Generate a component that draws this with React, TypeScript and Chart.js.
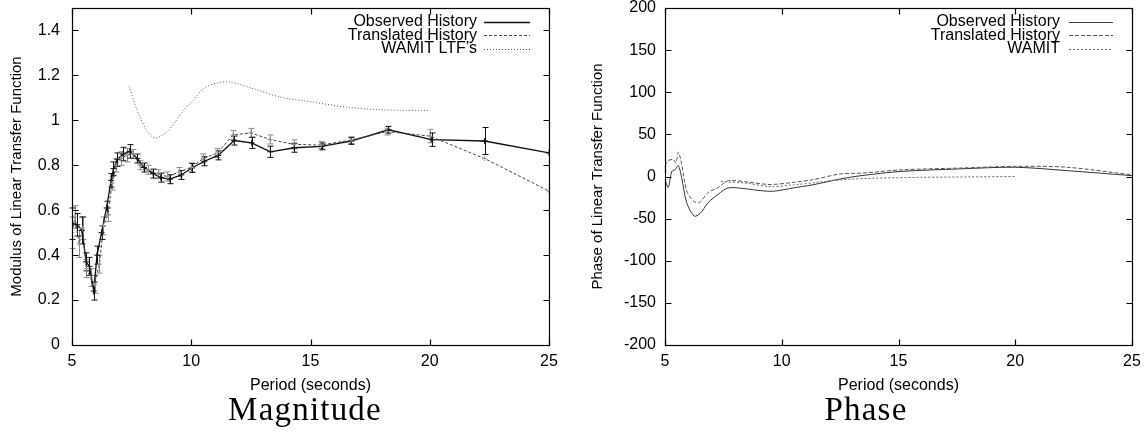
import React, { useEffect, useRef } from 'react';
import { Chart, registerables } from 'chart.js';
Chart.register(...registerables);

const SANS = "'Liberation Sans', Arial, Helvetica, sans-serif";

// ---------- Magnitude chart data ----------
const magObsX = [5.0, 5.22, 5.42, 5.59, 5.73, 5.91, 6.05, 6.24, 6.45, 6.64, 6.74, 6.9, 7.14, 7.42, 7.74, 8.02, 8.4, 8.72, 9.1, 9.58, 10.03, 10.55, 11.13, 11.8, 12.53, 13.32, 14.32, 15.47, 16.7, 18.27, 20.08, 22.3, 25];
const magObsY = [0.54, 0.535, 0.51, 0.37, 0.35, 0.24, 0.4, 0.5, 0.61, 0.733, 0.785, 0.825, 0.85, 0.862, 0.83, 0.79, 0.763, 0.745, 0.738, 0.757, 0.788, 0.818, 0.844, 0.91, 0.9, 0.86, 0.878, 0.884, 0.908, 0.958, 0.914, 0.908, 0.855];
const magObsErr = [0.07, 0.05, 0.06, 0.04, 0.04, 0.04, 0.04, 0.03, 0.03, 0.03, 0.03, 0.03, 0.03, 0.03, 0.02, 0.02, 0.02, 0.02, 0.02, 0.02, 0.02, 0.02, 0.02, 0.02, 0.025, 0.025, 0.02, 0.015, 0.015, 0.015, 0.03, 0.06, 0];

const magTrX = [5.0, 5.12, 5.3, 5.45, 5.6, 5.78, 5.95, 6.15, 6.32, 6.5, 6.68, 6.85, 7.05, 7.3, 7.55, 7.85, 8.2, 8.6, 9.0, 9.5, 10.0, 10.5, 11.1, 11.75, 12.5, 13.3, 14.3, 15.45, 16.7, 18.2, 20.0, 22.3, 25];
const magTrY = [0.5, 0.57, 0.45, 0.52, 0.34, 0.3, 0.27, 0.36, 0.53, 0.58, 0.72, 0.8, 0.83, 0.845, 0.85, 0.8, 0.78, 0.76, 0.75, 0.77, 0.79, 0.83, 0.855, 0.935, 0.944, 0.915, 0.893, 0.89, 0.912, 0.95, 0.93, 0.83, 0.685];
const magTrErr = [0.07, 0.05, 0.06, 0.05, 0.04, 0.04, 0.04, 0.04, 0.04, 0.03, 0.03, 0.03, 0.03, 0.03, 0.02, 0.02, 0.02, 0.02, 0.02, 0.02, 0.02, 0.02, 0.02, 0.02, 0.02, 0.02, 0.02, 0.015, 0.015, 0.015, 0.03, 0, 0];

const magWamitX = [7.4, 7.75, 8.13, 8.48, 8.97, 9.32, 9.67, 10.09, 10.5, 11.07, 11.62, 12.6, 13.72, 15.1, 16.5, 17.9, 20.0];
const magWamitY = [1.151, 1.04, 0.956, 0.921, 0.948, 0.992, 1.044, 1.089, 1.141, 1.166, 1.17, 1.141, 1.104, 1.081, 1.059, 1.047, 1.044];

// ---------- Phase chart data ----------
const phObsX = [5.0, 5.14, 5.29, 5.43, 5.57, 5.71, 5.93, 6.25, 6.5, 6.85, 7.28, 7.71, 8.5, 9.07, 9.64, 10.5, 11.3, 12.5, 13.4, 15.1, 17.6, 20.0, 22.2, 25];
const phObsY = [-4, -13, 6, 8, 13, -1, -31, -47, -44, -31, -21, -13.5, -14.7, -16.7, -17.5, -13.5, -10, -3, 1, 6, 9, 11, 7, 1];

const phTrX = [5.0, 5.14, 5.36, 5.47, 5.57, 5.71, 5.93, 6.21, 6.47, 6.85, 7.28, 7.71, 8.64, 9.5, 10.5, 11.3, 12.5, 13.4, 15.2, 17.6, 20.0, 22.2, 25];
const phTrY = [13, 19, 20, 16, 29, 15, -17, -29, -31, -19, -13, -5, -7, -9.5, -7, -4, 3, 4, 8, 10, 12, 11, 2];

const phWamitX = [7.4, 8.5, 9.5, 10.5, 11.5, 12.5, 14, 16, 18, 20];
const phWamitY = [-6, -8, -12, -10, -7, -4, -2, -1, -0.5, 0];

// ---------- Axis settings ----------
const xTickStep = 5;
const magYTickStep = 0.2;
const phYTickStep = 50;

const pts = (xs: number[], ys: number[]) => xs.map((x, i) => ({ x, y: ys[i] }));

const framePlugin = {
  id: 'frameTicks',
  afterDatasetsDraw(chart: any) {
    const { ctx, chartArea: a, scales } = chart;
    ctx.save();
    ctx.strokeStyle = '#000';
    ctx.lineWidth = 1.2;
    ctx.setLineDash([]);
    const L = Math.round(a.left) + 0.5, R = Math.round(a.right) + 0.5;
    const T = Math.round(a.top) + 0.5, B = Math.round(a.bottom) + 0.5;
    ctx.strokeRect(L, T, R - L, B - T);
    const len = 6;
    ctx.beginPath();
    scales.x.ticks.forEach((t: any) => {
      const px = Math.round(scales.x.getPixelForValue(t.value)) + 0.5;
      ctx.moveTo(px, B); ctx.lineTo(px, B - len);
      ctx.moveTo(px, T); ctx.lineTo(px, T + len);
    });
    scales.y.ticks.forEach((t: any) => {
      const py = Math.round(scales.y.getPixelForValue(t.value)) + 0.5;
      ctx.moveTo(L, py); ctx.lineTo(L + len, py);
      ctx.moveTo(R, py); ctx.lineTo(R - len, py);
    });
    ctx.stroke();
    ctx.restore();
  },
};

const errorBarPlugin = {
  id: 'errorBars',
  beforeDatasetsDraw(chart: any) {
    const { ctx, scales } = chart;
    ctx.save();
    chart.data.datasets.forEach((ds: any, i: number) => {
      if (!ds.errors) return;
      const meta = chart.getDatasetMeta(i);
      ctx.strokeStyle = ds.errorColor;
      ctx.lineWidth = 1;
      ctx.setLineDash([]);
      ctx.beginPath();
      meta.data.forEach((el: any, j: number) => {
        const e = ds.errors[j];
        if (!e) return;
        const v = ds.data[j].y;
        const x = Math.round(el.x) + 0.5;
        const y1 = scales.y.getPixelForValue(v + e);
        const y2 = scales.y.getPixelForValue(v - e);
        ctx.moveTo(x, y1); ctx.lineTo(x, y2);
        ctx.moveTo(x - 3, y1); ctx.lineTo(x + 3, y1);
        ctx.moveTo(x - 3, y2); ctx.lineTo(x + 3, y2);
      });
      ctx.stroke();
    });
    ctx.restore();
  },
};

const legendPlugin = {
  id: 'textLegend',
  afterDraw(chart: any, _args: any, opts: any) {
    if (!opts || !opts.items) return;
    const { ctx } = chart;
    ctx.save();
    ctx.font = `16px ${SANS}`;
    ctx.textAlign = 'right';
    ctx.textBaseline = 'middle';
    opts.items.forEach((it: any, i: number) => {
      const y = opts.y0 + i * opts.dy;
      ctx.fillStyle = '#000';
      ctx.fillText(it.label, opts.textRight, y);
      ctx.strokeStyle = it.color;
      ctx.lineWidth = it.width;
      ctx.setLineDash(it.dash);
      ctx.beginPath();
      ctx.moveTo(opts.x1, Math.round(y) + 0.5);
      ctx.lineTo(opts.x2, Math.round(y) + 0.5);
      ctx.stroke();
    });
    ctx.restore();
  },
};

const fmtTick = (v: number) => String(Math.round(v * 100) / 100);

function makeConfig(p: {
  datasets: any[];
  yMin: number; yMax: number; yStep: number;
  yTitle: string; yWidth: number; yTickPad: number; yTitlePad: number;
  padRight: number; legend: any;
}) {
  return {
    type: 'line',
    data: { datasets: p.datasets },
    plugins: [errorBarPlugin, framePlugin, legendPlugin],
    options: {
      responsive: false,
      animation: false,
      devicePixelRatio: 1,
      layout: { padding: { left: 0, right: p.padRight, top: 8, bottom: 0 } },
      plugins: {
        legend: { display: false },
        tooltip: { enabled: false },
        textLegend: p.legend,
      },
      scales: {
        x: {
          type: 'linear', min: 5, max: 25,
          ticks: { stepSize: xTickStep, color: '#000', font: { family: SANS, size: 16 }, padding: 7, maxRotation: 0, callback: fmtTick },
          grid: { display: false, drawTicks: false },
          border: { display: false },
          title: { display: true, text: 'Period (seconds)', color: '#000', font: { family: SANS, size: 16 }, padding: { top: 0, bottom: 5 } },
          afterFit: (s: any) => { s.height = 55; s.paddingLeft = 0; s.paddingRight = 0; },
        },
        y: {
          type: 'linear', min: p.yMin, max: p.yMax,
          ticks: { stepSize: p.yStep, includeBounds: false, color: '#000', font: { family: SANS, size: 16 }, padding: p.yTickPad, callback: fmtTick },
          grid: { display: false, drawTicks: false },
          border: { display: false },
          title: { display: true, text: p.yTitle, color: '#000', font: { family: SANS, size: 15 }, padding: { top: p.yTitlePad, bottom: 0 } },
          afterFit: (s: any) => { s.width = p.yWidth; s.paddingTop = 0; s.paddingBottom = 0; },
        },
      },
    },
  } as any;
}

function ChartBox({ config, left, width, height }: { config: any; left: number; width: number; height: number }) {
  const ref = useRef<HTMLCanvasElement>(null);
  useEffect(() => {
    const c = new Chart(ref.current as HTMLCanvasElement, config);
    return () => c.destroy();
  }, []);
  return (
    <canvas ref={ref} width={width} height={height}
      style={{ position: 'absolute', left, top: 0, width, height }} />
  );
}

const magConfig = makeConfig({
  datasets: [
    {
      label: 'Translated History', data: pts(magTrX, magTrY), errors: magTrErr, errorColor: '#8a8a8a',
      borderColor: '#444', borderWidth: 1, borderDash: [3, 2], tension: 0,
      pointStyle: 'cross', pointRadius: 2.5, pointBorderColor: '#999', pointBorderWidth: 1,
    },
    {
      label: 'WAMIT LTF\u2019s', data: pts(magWamitX, magWamitY),
      borderColor: '#555', borderWidth: 1, borderDash: [1, 2], tension: 0.3, pointRadius: 0,
    },
    {
      label: 'Observed History', data: pts(magObsX, magObsY), errors: magObsErr, errorColor: '#111',
      borderColor: '#111', borderWidth: 1.3, tension: 0,
      pointStyle: 'cross', pointRadius: 3, pointBorderColor: '#111', pointBorderWidth: 1,
    },
  ],
  yMin: 0, yMax: 1.5, yStep: magYTickStep,
  yTitle: 'Modulus of Linear Transfer Function', yWidth: 72, yTickPad: 12, yTitlePad: 8,
  padRight: 16,
  legend: {
    textRight: 477, x1: 484, x2: 530, y0: 22, dy: 13.3,
    items: [
      { label: 'Observed History', color: '#111', width: 1.3, dash: [] },
      { label: 'Translated History', color: '#444', width: 1, dash: [3, 2] },
      { label: 'WAMIT LTF\u2019s', color: '#555', width: 1, dash: [1, 2] },
    ],
  },
});

const phConfig = makeConfig({
  datasets: [
    {
      label: 'WAMIT', data: pts(phWamitX, phWamitY),
      borderColor: '#666', borderWidth: 1, borderDash: [2, 2], tension: 0.3, pointRadius: 0,
    },
    {
      label: 'Translated History', data: pts(phTrX, phTrY),
      borderColor: '#555', borderWidth: 1, borderDash: [4, 2], tension: 0.3, pointRadius: 0,
    },
    {
      label: 'Observed History', data: pts(phObsX, phObsY),
      borderColor: '#333', borderWidth: 1, tension: 0.3, pointRadius: 0,
    },
  ],
  yMin: -200, yMax: 200, yStep: phYTickStep,
  yTitle: 'Phase of Linear Transfer Function', yWidth: 100, yTickPad: 9, yTitlePad: 24,
  padRight: 13,
  legend: {
    textRight: 1060 - 565, x1: 1069 - 565, x2: 1113 - 565, y0: 22, dy: 13.3,
    items: [
      { label: 'Observed History', color: '#444', width: 1, dash: [] },
      { label: 'Translated History', color: '#555', width: 1, dash: [4, 2] },
      { label: 'WAMIT', color: '#666', width: 1, dash: [2, 2] },
    ],
  },
});

const captionStyle = (center: number): React.CSSProperties => ({
  position: 'absolute', left: center - 150, top: 393, width: 300, textAlign: 'center',
  fontFamily: "'Liberation Serif', 'Times New Roman', serif", fontSize: 33, lineHeight: 1,
  letterSpacing: 1.2, color: '#000',
});

export default function App() {
  return (
    <div style={{ position: 'absolute', left: 0, top: 0, width: 1145, height: 442, background: '#fff', overflow: 'hidden' }}>
      <ChartBox config={magConfig} left={0} width={565} height={400} />
      <ChartBox config={phConfig} left={565} width={580} height={400} />
      <div style={captionStyle(305)}>Magnitude</div>
      <div style={captionStyle(866)}>Phase</div>
    </div>
  );
}
